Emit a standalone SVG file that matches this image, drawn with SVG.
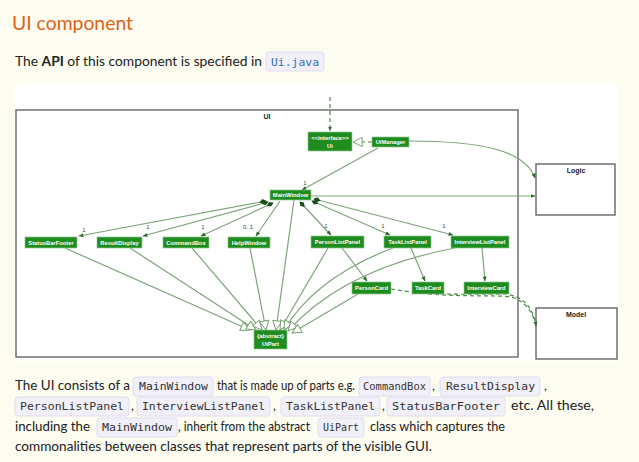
<svg xmlns="http://www.w3.org/2000/svg" width="639" height="462" viewBox="0 0 639 462">
<style>
.bg{fill:#fcfcf1}
.node rect{fill:#1f8c1f;stroke:#8fc98f;stroke-width:0.7}
.node text{fill:#fff;font-family:"Liberation Sans",Arial,sans-serif;font-weight:bold;font-size:5.8px;text-anchor:middle}
.pkg{fill:#fff;stroke:#666;stroke-width:1.4}
.pkgl{font-family:"Liberation Sans",Arial,sans-serif;font-weight:bold;font-size:7px;fill:#222;text-anchor:middle}
.ln{fill:none;stroke:#7ea57a;stroke-width:1.2}
.dash{fill:none;stroke:#4f8a4a;stroke-width:1.2;stroke-dasharray:4 3}
.mult{font-family:"Liberation Sans",Arial,sans-serif;font-size:6px;fill:#444;text-anchor:middle}
.body{font-family:Lato,"Noto Sans",sans-serif;font-size:12.5px;fill:#222}
.code{font-family:"DejaVu Sans Mono","Liberation Mono",monospace;font-size:10.5px;fill:#333}
.cb{fill:#f1eff8;stroke:#e2deee;stroke-width:1}
</style>
<defs>
<marker id="ah" viewBox="0 0 10 10" refX="9" refY="5" markerWidth="5" markerHeight="5" orient="auto" markerUnits="userSpaceOnUse">
<path d="M0,1 L10,5 L0,9 z" fill="#2d6a2d"/>
</marker>
<marker id="tri" viewBox="0 0 12 12" refX="11" refY="6" markerWidth="11" markerHeight="11" orient="auto" markerUnits="userSpaceOnUse">
<path d="M1,1 L11,6 L1,11 z" fill="#fff" stroke="#6e9a6a" stroke-width="1"/>
</marker>
<marker id="dia" viewBox="0 0 12 8" refX="1" refY="4" markerWidth="8" markerHeight="5" orient="auto" markerUnits="userSpaceOnUse">
<path d="M0,4 L6,0 L12,4 L6,8 z" fill="#1d4f1d"/>
</marker>
</defs>
<rect class="bg" x="0" y="0" width="639" height="462"/>
<text x="12" y="30" font-family="Lato,Noto Sans,sans-serif" font-size="20" fill="#e35f16" textLength="121" lengthAdjust="spacingAndGlyphs">UI component</text>
<text class="body" x="15" y="66" textLength="247" lengthAdjust="spacingAndGlyphs">The <tspan font-weight="bold">API</tspan> of this component is specified in</text>
<rect class="cb" x="266" y="52" width="58" height="19" rx="3"/>
<text class="code" x="271" y="66" style="fill:#2f6ebf" textLength="48" lengthAdjust="spacingAndGlyphs">Ui.java</text>
<rect x="15" y="84" width="602" height="277" fill="#fff"/>
<g id="pkg-ui"><rect class="pkg" x="16" y="110" width="502" height="247"/><text class="pkgl" x="267" y="119">UI</text></g>
<g id="pkg-logic"><rect class="pkg" x="536" y="164" width="79" height="51"/><text class="pkgl" x="576" y="173">Logic</text></g>
<g id="pkg-model"><rect class="pkg" x="536" y="308" width="81" height="51"/><text class="pkgl" x="576" y="317">Model</text></g>
<g id="connectors">
<path class="dash" d="M330,97 L330,131" marker-end="url(#ah)"/>
<path class="dash" d="M372,142 L353,142" marker-end="url(#tri)"/>
<path class="ln" d="M409,141 C480,141 525,150 535,178" marker-end="url(#ah)"/>
<path class="ln" d="M378,148 L302,190" marker-end="url(#ah)"/>
<path class="ln" d="M311,196 L535,196" marker-end="url(#ah)"/>
<path class="ln" d="M266,201 L79,236" marker-start="url(#dia)" marker-end="url(#ah)"/>
<path class="ln" d="M268,202 L143,236" marker-start="url(#dia)" marker-end="url(#ah)"/>
<path class="ln" d="M273,203 L201,236" marker-start="url(#dia)" marker-end="url(#ah)"/>
<path class="ln" d="M280,201 L256,236" marker-end="url(#ah)"/>
<path class="ln" d="M300,202 L331,235" marker-start="url(#dia)" marker-end="url(#ah)"/>
<path class="ln" d="M312,201 L390,235" marker-start="url(#dia)" marker-end="url(#ah)"/>
<path class="ln" d="M314,199 L453,235" marker-start="url(#dia)" marker-end="url(#ah)"/>
<path class="ln" d="M65,248 L250,330" marker-end="url(#tri)"/>
<path class="ln" d="M130,248 L256,330" marker-end="url(#tri)"/>
<path class="ln" d="M192,248 L262,330" marker-end="url(#tri)"/>
<path class="ln" d="M250,248 L266,330" marker-end="url(#tri)"/>
<path class="ln" d="M294,200 L276,330" marker-end="url(#tri)"/>
<path class="ln" d="M328,248 L280,330" marker-end="url(#tri)"/>
<path class="ln" d="M393,248 C340,268 305,295 284,330" marker-end="url(#tri)"/>
<path class="ln" d="M455,248 C380,262 325,290 288,331" marker-end="url(#tri)"/>
<path class="ln" d="M358,294 L292,333" marker-end="url(#tri)"/>
<path class="ln" d="M342,248 L367,281" marker-end="url(#ah)"/>
<path class="ln" d="M411,248 L425,281" marker-end="url(#ah)"/>
<path class="ln" d="M482,248 L485,281" marker-end="url(#ah)"/>
<path class="dash" d="M391,289 C430,296 480,294 505,294 C522,296 533,306 536,326" marker-end="url(#ah)"/>
<path class="dash" d="M428,294 C470,297 500,295 512,297 C526,302 532,312 535,322"/>
<text class="mult" x="305" y="185">1</text>
<text class="mult" x="84" y="232">1</text>
<text class="mult" x="148" y="229">1</text>
<text class="mult" x="203" y="229">1</text>
<text class="mult" x="248" y="229">0..1</text>
<text class="mult" x="326" y="228">1</text>
<text class="mult" x="383" y="228">1</text>
<text class="mult" x="444" y="228">1</text>
</g>
<g id="Ui" class="node"><rect x="308" y="132" width="44" height="19"/><text x="330" y="140">&lt;&lt;interface&gt;&gt;</text><text x="330" y="148">Ui</text></g>
<g id="UiManager" class="node"><rect x="372" y="137" width="37" height="10"/><text x="390.5" y="144">UiManager</text></g>
<g id="MainWindow" class="node"><rect x="270" y="190" width="41" height="10"/><text x="290.5" y="197">MainWindow</text></g>
<g id="StatusBarFooter" class="node"><rect x="25" y="237" width="52" height="11"/><text x="51" y="244.5">StatusBarFooter</text></g>
<g id="ResultDisplay" class="node"><rect x="97" y="237" width="45" height="11"/><text x="119.5" y="244.5">ResultDisplay</text></g>
<g id="CommandBox" class="node"><rect x="163" y="237" width="46" height="11"/><text x="186" y="244.5">CommandBox</text></g>
<g id="HelpWindow" class="node"><rect x="228" y="237" width="42" height="11"/><text x="249" y="244.5">HelpWindow</text></g>
<g id="PersonListPanel" class="node"><rect x="311" y="236" width="53" height="12"/><text x="337.5" y="244">PersonListPanel</text></g>
<g id="TaskListPanel" class="node"><rect x="384" y="236" width="47" height="12"/><text x="407.5" y="244">TaskListPanel</text></g>
<g id="InterviewListPanel" class="node"><rect x="451" y="236" width="58" height="12"/><text x="480" y="244">InterviewListPanel</text></g>
<g id="PersonCard" class="node"><rect x="352" y="282" width="39" height="12"/><text x="371.5" y="290">PersonCard</text></g>
<g id="TaskCard" class="node"><rect x="412" y="282" width="32" height="12"/><text x="428" y="290">TaskCard</text></g>
<g id="InterviewCard" class="node"><rect x="464" y="282" width="45" height="12"/><text x="486.5" y="290">InterviewCard</text></g>
<g id="UiPart" class="node"><rect x="254" y="330" width="33" height="19"/><text x="270.5" y="338">{abstract}</text><text x="270.5" y="346">UiPart</text></g>
<g id="paragraph">
<text class="body" x="15" y="390" textLength="115" lengthAdjust="spacingAndGlyphs">The UI consists of a</text>
<rect class="cb" x="133" y="377" width="80" height="19" rx="3"/><text class="code" x="139" y="390" textLength="69" lengthAdjust="spacingAndGlyphs">MainWindow</text>
<text class="body" x="217" y="390" textLength="138" lengthAdjust="spacingAndGlyphs">that is made up of parts e.g.</text>
<rect class="cb" x="359" y="377" width="71" height="19" rx="3"/><text class="code" x="363" y="390" textLength="63" lengthAdjust="spacingAndGlyphs">CommandBox</text>
<text class="body" x="432" y="390">,</text>
<rect class="cb" x="440" y="377" width="100" height="19" rx="3"/><text class="code" x="446" y="390" textLength="89" lengthAdjust="spacingAndGlyphs">ResultDisplay</text>
<text class="body" x="544" y="390">,</text>
<rect class="cb" x="15" y="397" width="114" height="19" rx="3"/><text class="code" x="20" y="410" textLength="104" lengthAdjust="spacingAndGlyphs">PersonListPanel</text>
<text class="body" x="131" y="410">,</text>
<rect class="cb" x="137" y="397" width="133" height="19" rx="3"/><text class="code" x="142" y="410" textLength="123" lengthAdjust="spacingAndGlyphs">InterviewListPanel</text>
<text class="body" x="273" y="410">,</text>
<rect class="cb" x="281" y="397" width="99" height="19" rx="3"/><text class="code" x="286" y="410" textLength="89" lengthAdjust="spacingAndGlyphs">TaskListPanel</text>
<text class="body" x="382" y="410">,</text>
<rect class="cb" x="387" y="397" width="118" height="19" rx="3"/><text class="code" x="392" y="410" textLength="108" lengthAdjust="spacingAndGlyphs">StatusBarFooter</text>
<text class="body" x="511" y="410" textLength="83" lengthAdjust="spacingAndGlyphs">etc. All these,</text>
<text class="body" x="15" y="431" textLength="75" lengthAdjust="spacingAndGlyphs">including the</text>
<rect class="cb" x="97" y="418" width="80" height="19" rx="3"/><text class="code" x="102" y="431" textLength="70" lengthAdjust="spacingAndGlyphs">MainWindow</text>
<text class="body" x="178" y="431" textLength="132" lengthAdjust="spacingAndGlyphs">, inherit from the abstract</text>
<rect class="cb" x="318" y="418" width="46" height="19" rx="3"/><text class="code" x="323" y="431" textLength="36" lengthAdjust="spacingAndGlyphs">UiPart</text>
<text class="body" x="370" y="431" textLength="135" lengthAdjust="spacingAndGlyphs">class which captures the</text>
<text class="body" x="15" y="451" textLength="417" lengthAdjust="spacingAndGlyphs">commonalities between classes that represent parts of the visible GUI.</text>
</g>
</svg>
